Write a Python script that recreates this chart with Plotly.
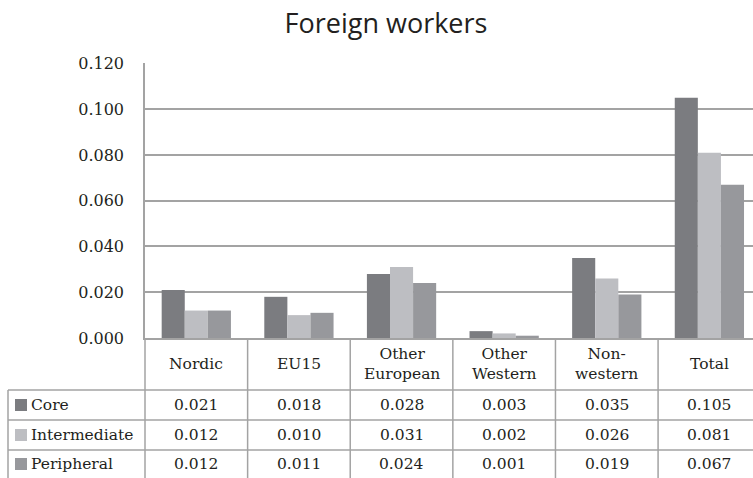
import plotly.graph_objects as go

categories = ["Nordic", "EU15", "Other<br>European", "Other<br>Western", "Non-<br>western", "Total"]
series_names = ["Core", "Intermediate", "Peripheral"]
core = [0.021, 0.018, 0.028, 0.003, 0.035, 0.105]
intermediate = [0.012, 0.010, 0.031, 0.002, 0.026, 0.081]
peripheral = [0.012, 0.011, 0.024, 0.001, 0.019, 0.067]
y_ticks = [0.0, 0.02, 0.04, 0.06, 0.08, 0.10, 0.12]

series_values = [core, intermediate, peripheral]
colors = ["#7b7c80", "#bdbec2", "#97989c"]

W, H = 753, 478
L, R, T, B = 145, 753, 63, 338
TXT = "#231f20"
GRID = "#a3a3a3"
SERIF = "DejaVu Serif"


def px_x(px):
    return (px - L) / (R - L)


def px_y(py):
    return (B - py) / (B - T)


xs = list(range(len(categories)))
fig = go.Figure()
for name, vals, col in zip(series_names, series_values, colors):
    fig.add_trace(go.Bar(x=xs, y=vals, name=name, marker=dict(color=col, line=dict(width=0)),
                         showlegend=False, hoverinfo="skip"))

shapes = []
annotations = []

# table row lines
row_lines = [390, 420, 450]
for ry in row_lines:
    shapes.append(dict(type="line", xref="paper", yref="paper", x0=px_x(8), x1=1,
                       y0=px_y(ry), y1=px_y(ry), line=dict(color=GRID, width=1.5)))
# left border of legend column
shapes.append(dict(type="line", xref="paper", yref="paper", x0=px_x(8), x1=px_x(8),
                   y0=px_y(390), y1=px_y(478), line=dict(color=GRID, width=1.5)))
# extension of y axis through table
shapes.append(dict(type="line", xref="paper", yref="paper", x0=0, x1=0,
                   y0=0, y1=px_y(478), line=dict(color=GRID, width=1.5)))
# category separators
for i in range(len(categories) - 1):
    shapes.append(dict(type="line", xref="x", yref="paper", x0=i + 0.5, x1=i + 0.5,
                       y0=0, y1=px_y(478), line=dict(color=GRID, width=1.5)))

# header row
for i, c in enumerate(categories):
    annotations.append(dict(xref="x", yref="paper", x=i, y=px_y(364), text=c, showarrow=False,
                            xanchor="center", yanchor="middle",
                            font=dict(family=SERIF, size=15.5, color=TXT)))

row_centers = [405, 435, 464]
for r, (name, vals, col) in enumerate(zip(series_names, series_values, colors)):
    cy = row_centers[r]
    shapes.append(dict(type="rect", xref="paper", yref="paper", x0=px_x(15), x1=px_x(27),
                       y0=px_y(cy + 6), y1=px_y(cy - 6), fillcolor=col, line=dict(width=0)))
    annotations.append(dict(xref="paper", yref="paper", x=px_x(29), y=px_y(cy), text=name,
                            showarrow=False, xanchor="left", yanchor="middle",
                            font=dict(family=SERIF, size=15.5, color=TXT)))
    for i, v in enumerate(vals):
        annotations.append(dict(xref="x", yref="paper", x=i, y=px_y(cy), text=f"{v:.3f}",
                                showarrow=False, xanchor="center", yanchor="middle",
                                font=dict(family=SERIF, size=15.5, color=TXT)))

fig.update_layout(
    width=W, height=H,
    margin=dict(l=L, r=W - R, t=T, b=H - B, pad=0),
    paper_bgcolor="white", plot_bgcolor="white",
    barmode="group", bargap=0.325, bargroupgap=0,
    title=dict(text="Foreign workers", x=386 / W, xanchor="center", xref="container",
               y=1 - 24 / H, yanchor="middle", yref="container",
               font=dict(family="Open Sans", size=27, color=TXT)),
    xaxis=dict(range=[-0.5, len(categories) - 0.575], showticklabels=False, showgrid=False,
               zeroline=False, showline=True, linecolor=GRID, linewidth=1.5, ticks=""),
    yaxis=dict(range=[0, 0.1202], tickvals=y_ticks, ticktext=[f"{t:.3f}" for t in y_ticks],
               showgrid=True, gridcolor=GRID, gridwidth=1.5, zeroline=False,
               showline=True, linecolor=GRID, linewidth=1.5, ticks="",
               ticklabelstandoff=16,
               tickfont=dict(family=SERIF, size=16, color=TXT)),
    shapes=shapes,
    annotations=annotations,
)

fig.write_html("out.html", config={"displayModeBar": False},
               post_script="document.body.style.margin='0';document.body.style.overflow='hidden';")
